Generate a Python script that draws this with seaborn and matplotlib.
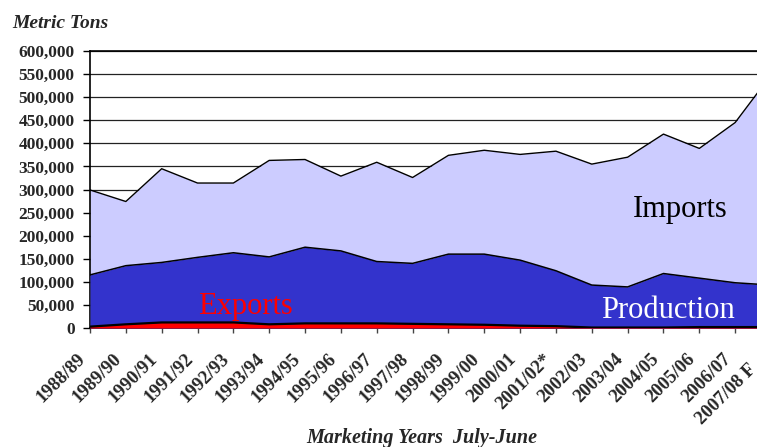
import numpy as np
import pandas as pd
import matplotlib
matplotlib.use("Agg")
import matplotlib.pyplot as plt
import matplotlib.transforms as mtransforms
from matplotlib.ticker import FuncFormatter, MultipleLocator
import seaborn as sns

sns.set_theme(style="white")
plt.rcParams["font.family"] = ["Liberation Serif", "DejaVu Serif"]

years = ["1988/89", "1989/90", "1990/91", "1991/92", "1992/93", "1993/94",
         "1994/95", "1995/96", "1996/97", "1997/98", "1998/99", "1999/00",
         "2000/01", "2001/02*", "2002/03", "2003/04", "2004/05", "2005/06",
         "2006/07", "2007/08 F"]

# metric tons
production = [115000, 135000, 142000, 153000, 163000, 154000, 175000, 167000,
              144000, 140000, 160000, 160000, 147000, 124000, 93000, 89000,
              118000, 108000, 98000, 93000]
imports = [184000, 139000, 203000, 161000, 151000, 209000, 190000, 162000,
           215000, 186000, 214000, 225000, 229000, 259000, 262000, 281000,
           302000, 281000, 347000, 455000]
exports = [3000, 8000, 12000, 12000, 12000, 8000, 10000, 10000, 10000, 9000,
           8000, 7000, 5000, 4000, 1000, 1000, 1000, 2000, 2000, 2000]

df = pd.DataFrame({"year": years, "production": production,
                   "imports": imports, "exports": exports})
df["pos"] = np.arange(len(df))
df["total"] = df["production"] + df["imports"]

fig = plt.figure(figsize=(7.57, 4.47), dpi=100)
# the original chart is cut off on the right, so the axes run past the figure edge
ax = fig.add_axes([90 / 757, 119 / 447, 681 / 757, 277 / 447])
ax.set_axisbelow(True)

ax.fill_between(df["pos"], 0, df["total"], color="#CCCCFF", lw=0, zorder=2)
ax.fill_between(df["pos"], 0, df["production"], color="#3333CC", lw=0, zorder=3)
ax.fill_between(df["pos"], 0, df["exports"], color="#FF0000", lw=0, zorder=4)

sns.lineplot(data=df, x="pos", y="total", color="black", lw=1, ax=ax, zorder=5)
sns.lineplot(data=df, x="pos", y="production", color="black", lw=1.1, ax=ax, zorder=5)
sns.lineplot(data=df, x="pos", y="exports", color="black", lw=1.6, ax=ax, zorder=5)

ax.set_xlim(0, len(df) - 1)
ax.set_ylim(0, 600000)
ax.yaxis.set_major_locator(MultipleLocator(50000))
ax.yaxis.set_major_formatter(FuncFormatter(lambda v, p: f"{int(v):,}"))
ax.set_xticks(df["pos"])
ax.set_xticklabels(df["year"], rotation=45, ha="right", va="center",
                   rotation_mode="anchor", fontsize=13.5, fontweight="bold")
for lab in ax.get_yticklabels():
    lab.set_fontsize(12.5)
    lab.set_fontweight("bold")

ax.yaxis.grid(True, color="#222222", lw=0.9)
ax.xaxis.grid(False)
ax.spines["right"].set_visible(False)
ax.spines["top"].set_color("black")
ax.spines["top"].set_linewidth(1.2)
for s in ["left", "bottom"]:
    ax.spines[s].set_color("black")
    ax.spines[s].set_linewidth(1.2)

ax.tick_params(axis="y", left=True, direction="out", length=5, width=1,
               color="black", pad=6)
ax.tick_params(axis="x", bottom=True, direction="out", length=3.6, width=1,
               color="#444444", pad=17)
xlabels = ax.get_xticklabels()
for i, lab in enumerate(xlabels):
    # last label slides down along its own slant so it stays inside the edge
    dx, dy = (-7, 0) if i < len(xlabels) - 1 else (-17, -10)
    lab.set_transform(lab.get_transform() +
                      mtransforms.ScaledTranslation(dx / 100, dy / 100, fig.dpi_scale_trans))

ax.set_xlabel("")
ax.set_ylabel("")

fig.text(12 / 757, 1 - 28 / 447, "Metric Tons", fontsize=14,
         fontweight="bold", style="italic", va="baseline")
fig.text(422 / 757, 1 - 443 / 447, "Marketing Years  July-June", fontsize=14.5,
         fontweight="bold", style="italic", ha="center", va="baseline")

fig.text(680 / 757, 1 - 217 / 447, "Imports", fontsize=22, color="black",
         ha="center", va="baseline")
fig.text(668 / 757, 1 - 318 / 447, "Production", fontsize=22, color="white",
         ha="center", va="baseline")
fig.text(245 / 757, 1 - 314 / 447, "Exports", fontsize=22, color="#FF0000",
         ha="center", va="baseline")

fig.savefig("out.png", dpi=100)
